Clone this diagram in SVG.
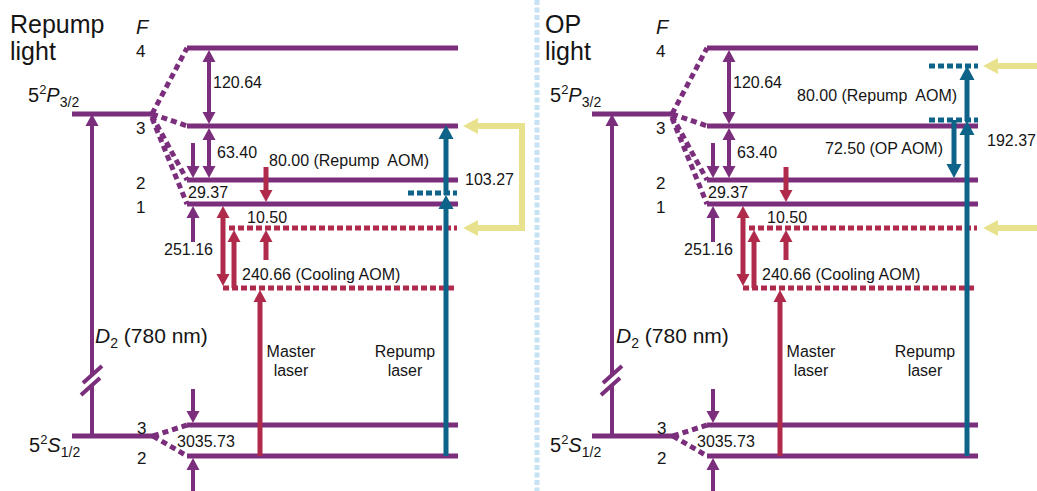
<svg xmlns="http://www.w3.org/2000/svg" width="1037" height="491" viewBox="0 0 1037 491">
<style>
text{font-family:"Liberation Sans",Arial,sans-serif;fill:#151515}
.n{font-size:16px}
.s{font-size:17px}
.big{font-size:25px}
.lvl{stroke:#7b2e7b;stroke-width:5;fill:none}
.dp{stroke:#7b2e7b;stroke-width:5;stroke-dasharray:6 4;fill:none}
.dc{stroke:#b02a4b;stroke-width:5;stroke-dasharray:6 3;fill:none}
.dt{stroke:#0e6389;stroke-width:5;stroke-dasharray:6 3;fill:none}
.ap{stroke:#7b2e7b;stroke-width:4;fill:none}
.ac{stroke:#b02a4b;stroke-width:5;fill:none}
.at{stroke:#0e6389;stroke-width:5;fill:none}
.y{stroke:#e8e28f;stroke-width:6;fill:none}
.yh{fill:#e8e28f}
.sep{stroke:#c6e2f5;stroke-width:5;stroke-dasharray:5 2.5;fill:none}
</style>
<defs>
<marker id="mp" markerUnits="userSpaceOnUse" markerWidth="13" markerHeight="13" refX="1" refY="6.5" orient="auto-start-reverse" overflow="visible"><path d="M0,0L12,6.5L0,13Z" fill="#7b2e7b"/></marker>
<marker id="mc" markerUnits="userSpaceOnUse" markerWidth="13" markerHeight="13" refX="1" refY="6.5" orient="auto-start-reverse" overflow="visible"><path d="M0,0L12,6.5L0,13Z" fill="#b02a4b"/></marker>
<marker id="mt" markerUnits="userSpaceOnUse" markerWidth="15" markerHeight="15" refX="1" refY="7.5" orient="auto-start-reverse" overflow="visible"><path d="M0,0L14,7.5L0,15Z" fill="#0e6389"/></marker>
</defs>

<rect width="1037" height="491" fill="#fff"/>
<path id="separator" class="sep" d="M537,0V491"/>

<g id="left-panel">
  <g id="left-levels">
    <path class="lvl" d="M72,114H152 M187,48H458 M187,126H458 M187,180H458 M187,204H458 M72,436H153 M187,425H458 M187,456H458"/>
    <path class="dp" d="M152,114L187,48 M152,114L187,126 M152,116L187,180 M152,118L187,204 M153,436L187,425 M153,436L187,456"/>
    <path class="dc" d="M229,228H457 M223,288H457"/>
  </g>
  <g id="left-connectors">
    <path class="ap" d="M92,436V385 M92,376V125" marker-end="url(#mp)"/>
    <path class="ap" d="M83,383L102,366 M81,395L100,378"/>
    <path class="ap" d="M209,61V113" marker-start="url(#mp)" marker-end="url(#mp)"/>
    <path class="ap" d="M209,139V167" marker-start="url(#mp)" marker-end="url(#mp)"/>
    <path class="ap" d="M193,143V167" marker-end="url(#mp)"/>
    <path class="ap" d="M193,242V217" marker-end="url(#mp)"/>
    <path class="ap" d="M193,389V412" marker-end="url(#mp)"/>
    <path class="ap" d="M193,491V469" marker-end="url(#mp)"/>
    <path class="ac" d="M223,217V275" marker-start="url(#mc)" marker-end="url(#mc)"/>
    <path class="ac" d="M234,288V241" marker-end="url(#mc)"/>
    <path class="ac" d="M266,167V191" marker-end="url(#mc)"/>
    <path class="ac" d="M266,260V241" marker-end="url(#mc)"/>
    <path class="ac" d="M260,456V301" marker-end="url(#mc)"/>
  </g>
  <g id="left-labels">
    <text x="10" y="33" class="big">Repump</text>
    <text x="10" y="60" class="big">light</text>
    <text x="136" y="34" font-size="20" font-style="italic">F</text>
    <text x="136" y="57" class="s">4</text>
    <text x="136" y="134" class="s">3</text>
    <text x="136" y="189" class="s">2</text>
    <text x="136" y="213" class="s">1</text>
    <text x="137" y="434" class="s">3</text>
    <text x="137" y="464" class="s">2</text>
    <text x="28" y="102" font-size="20">5<tspan font-size="13" dy="-8">2</tspan><tspan font-style="italic" dy="8">P</tspan><tspan font-size="14" dy="5">3/2</tspan></text>
    <text x="29" y="452" font-size="20">5<tspan font-size="13" dy="-8">2</tspan><tspan font-style="italic" dy="8">S</tspan><tspan font-size="14" dy="5">1/2</tspan></text>
    <text x="95" y="343" font-size="21"><tspan font-style="italic">D</tspan><tspan font-size="14" dy="5">2</tspan><tspan dy="-5"> (780 nm)</tspan></text>
    <text x="213" y="88" class="n">120.64</text>
    <text x="217" y="158" class="n">63.40</text>
    <text x="188" y="198" class="n">29.37</text>
    <text x="164" y="255" class="n">251.16</text>
    <text x="247" y="223" class="n">10.50</text>
    <text x="242" y="280" class="n">240.66 (Cooling AOM)</text>
    <text x="177" y="447" class="n">3035.73</text>
    <text x="269" y="166" class="n">80.00 (Repump&#160; AOM)</text>
    <text x="465" y="185" class="n">103.27</text>
    <text x="291" y="357" class="n" text-anchor="middle">Master</text>
    <text x="291" y="376" class="n" text-anchor="middle">laser</text>
    <text x="405" y="357" class="n" text-anchor="middle">Repump</text>
    <text x="405" y="376" class="n" text-anchor="middle">laser</text>
  </g>
  <g id="left-repump">
    <path class="dt" d="M408,193H457"/>
    <path class="at" d="M446,456V208" marker-end="url(#mt)"/>
    <path class="at" d="M446,195V138" marker-end="url(#mt)"/>
    <path class="y" d="M476,126H522V228H476"/>
    <polygon class="yh" points="463,126 478,118 478,134"/>
    <polygon class="yh" points="463,228 478,220 478,236"/>
  </g>
</g>

<g id="right-panel">
  <g id="right-levels" transform="translate(520,0)">
    <path class="lvl" d="M72,114H152 M187,48H458 M187,126H458 M187,180H458 M187,204H458 M72,436H153 M187,425H458 M187,456H458"/>
    <path class="dp" d="M152,114L187,48 M152,114L187,126 M152,116L187,180 M152,118L187,204 M153,436L187,425 M153,436L187,456"/>
    <path class="dc" d="M229,228H457 M223,288H457"/>
  </g>
  <g id="right-connectors" transform="translate(520,0)">
    <path class="ap" d="M92,436V385 M92,376V125" marker-end="url(#mp)"/>
    <path class="ap" d="M83,383L102,366 M81,395L100,378"/>
    <path class="ap" d="M209,61V113" marker-start="url(#mp)" marker-end="url(#mp)"/>
    <path class="ap" d="M209,139V167" marker-start="url(#mp)" marker-end="url(#mp)"/>
    <path class="ap" d="M193,143V167" marker-end="url(#mp)"/>
    <path class="ap" d="M193,242V217" marker-end="url(#mp)"/>
    <path class="ap" d="M193,389V412" marker-end="url(#mp)"/>
    <path class="ap" d="M193,491V469" marker-end="url(#mp)"/>
    <path class="ac" d="M223,217V275" marker-start="url(#mc)" marker-end="url(#mc)"/>
    <path class="ac" d="M234,288V241" marker-end="url(#mc)"/>
    <path class="ac" d="M266,167V191" marker-end="url(#mc)"/>
    <path class="ac" d="M266,260V241" marker-end="url(#mc)"/>
    <path class="ac" d="M260,456V301" marker-end="url(#mc)"/>
  </g>
  <g id="right-labels">
    <text x="545" y="33" class="big">OP</text>
    <text x="545" y="60" class="big">light</text>
    <text x="656" y="34" font-size="20" font-style="italic">F</text>
    <text x="656" y="57" class="s">4</text>
    <text x="656" y="134" class="s">3</text>
    <text x="656" y="189" class="s">2</text>
    <text x="656" y="213" class="s">1</text>
    <text x="657" y="434" class="s">3</text>
    <text x="657" y="464" class="s">2</text>
    <text x="550" y="102" font-size="20">5<tspan font-size="13" dy="-8">2</tspan><tspan font-style="italic" dy="8">P</tspan><tspan font-size="14" dy="5">3/2</tspan></text>
    <text x="550" y="452" font-size="20">5<tspan font-size="13" dy="-8">2</tspan><tspan font-style="italic" dy="8">S</tspan><tspan font-size="14" dy="5">1/2</tspan></text>
    <text x="616" y="343" font-size="21"><tspan font-style="italic">D</tspan><tspan font-size="14" dy="5">2</tspan><tspan dy="-5"> (780 nm)</tspan></text>
    <text x="733" y="88" class="n">120.64</text>
    <text x="737" y="158" class="n">63.40</text>
    <text x="708" y="198" class="n">29.37</text>
    <text x="684" y="255" class="n">251.16</text>
    <text x="767" y="223" class="n">10.50</text>
    <text x="762" y="280" class="n">240.66 (Cooling AOM)</text>
    <text x="697" y="447" class="n">3035.73</text>
    <text x="797" y="101" class="n">80.00 (Repump&#160; AOM)</text>
    <text x="825" y="154" class="n">72.50 (OP AOM)</text>
    <text x="987" y="146" class="n">192.37</text>
    <text x="811" y="357" class="n" text-anchor="middle">Master</text>
    <text x="811" y="376" class="n" text-anchor="middle">laser</text>
    <text x="925" y="357" class="n" text-anchor="middle">Repump</text>
    <text x="925" y="376" class="n" text-anchor="middle">laser</text>
  </g>
  <g id="right-op">
    <path class="dt" d="M929,66H978 M929,120H978"/>
    <path class="at" d="M954,120V165" marker-end="url(#mt)"/>
    <path class="at" d="M967,456V134" marker-end="url(#mt)"/>
    <path class="at" d="M967,121V79" marker-end="url(#mt)"/>
    <path class="y" d="M996,66H1037 M996,228H1037"/>
    <polygon class="yh" points="983,66 998,58 998,74"/>
    <polygon class="yh" points="983,228 998,220 998,236"/>
  </g>
</g>
</svg>
